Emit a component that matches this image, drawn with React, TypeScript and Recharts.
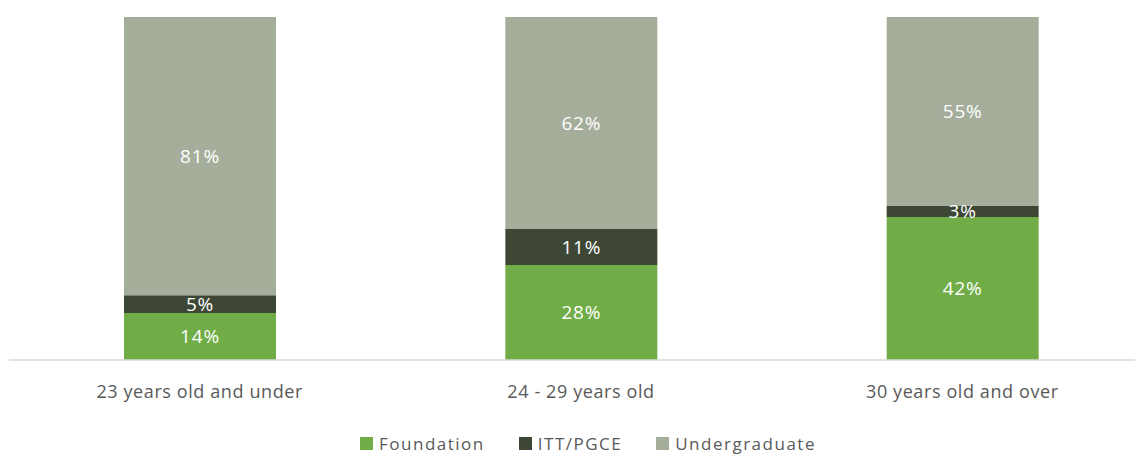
import { BarChart, Bar, XAxis, YAxis, LabelList, Legend } from 'recharts'

const AGE_GROUPS = ['23 years old and under', '24 - 29 years old', '30 years old and over']
const FOUNDATION = [13.7, 27.7, 41.7]
const ITT_PGCE = [5.2, 10.5, 3.2]
const UNDERGRADUATE = [81.1, 61.8, 55.1]

const SERIES = [
  { key: 'foundation', name: 'Foundation', color: '#70ad47' },
  { key: 'itt', name: 'ITT/PGCE', color: '#3e4736' },
  { key: 'ug', name: 'Undergraduate', color: '#a5ad9b' },
]

const data = AGE_GROUPS.map((name, i) => ({
  name,
  foundation: FOUNDATION[i],
  itt: ITT_PGCE[i],
  ug: UNDERGRADUATE[i],
}))

const FONT = '"Open Sans", sans-serif'
const pct = (v: unknown) => `${Math.round(Number(v))}%`

function LegendRow() {
  return (
    <div style={{ display: 'flex', justifyContent: 'center', gap: 34, fontFamily: FONT, fontSize: 17, letterSpacing: 1.5, color: '#595959', paddingLeft: 14, paddingTop: 14 }}>
      {SERIES.map(s => (
        <div key={s.key} style={{ display: 'flex', alignItems: 'center', gap: 6 }}>
          <div style={{ width: 13, height: 13, backgroundColor: s.color }} />
          <span>{s.name}</span>
        </div>
      ))}
    </div>
  )
}

export default function App() {
  return (
    <div style={{ width: 1135, height: 448, overflow: 'hidden' }}>
      <BarChart
        width={1145}
        height={448}
        data={data}
        margin={{ top: 9, right: 0, bottom: 0, left: 1 }}
        barSize={152}
      >
        <XAxis
          dataKey="name"
          axisLine={{ stroke: '#d9d9d9', strokeWidth: 1.5 }}
          tickLine={false}
          tick={{ fill: '#595959', fontSize: 18, fontFamily: FONT, letterSpacing: 0.6 }}
          tickMargin={19}
          height={58}
        />
        <YAxis hide domain={[0, 100]} />
        <Legend verticalAlign="bottom" height={38} content={() => <LegendRow />} />
        {SERIES.map(s => (
          <Bar key={s.key} dataKey={s.key} name={s.name} stackId="a" fill={s.color} isAnimationActive={false}>
            <LabelList dataKey={s.key} position="center" formatter={pct} fill="#ffffff" fontSize={19} fontFamily={FONT} letterSpacing={0.8} />
          </Bar>
        ))}
      </BarChart>
    </div>
  )
}
